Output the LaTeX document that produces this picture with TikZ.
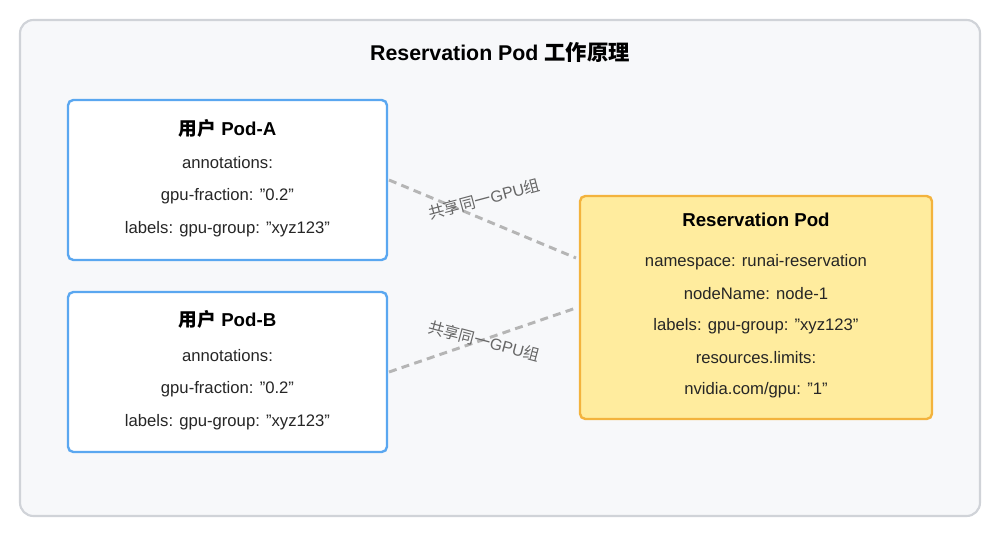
\documentclass[tikz,border=0pt]{standalone}
\usepackage{fontspec}
\setmainfont{Liberation Sans}[Ligatures=NoCommon]
\newfontfamily\cjk{Noto Sans CJK SC}
\newcommand\qq{\symbol{34}}
\definecolor{bgc}{HTML}{F7F8FA}
\definecolor{bgb}{HTML}{D0D3D8}
\definecolor{blu}{HTML}{5AA7F0}
\definecolor{yf}{HTML}{FFEC9E}
\definecolor{yb}{HTML}{F3B33D}
\definecolor{dash}{HTML}{B5B5B5}
\definecolor{lab}{HTML}{666666}
\begin{document}
\begin{tikzpicture}[x=0.75pt,y=-0.75pt,
  txt/.style={font=\fontsize{12.5}{14}\selectfont,text=black!85},
  ttl/.style={font=\bfseries\fontsize{14}{16}\selectfont},
  pod/.style={draw=blu,line width=1.8pt,fill=white,rounded corners=4pt},
  conn/.style={draw=dash,line width=2.2pt,dash pattern=on 6pt off 4pt},
  cl/.style={font=\fontsize{12}{14}\selectfont,text=lab}]
\useasboundingbox (0,0) rectangle (1004,534);
\draw[fill=bgc,draw=bgb,line width=1.6pt,rounded corners=10pt] (20,20) rectangle (980,516);
\node[font=\bfseries\fontsize{16}{18}\selectfont] (t) at (500,52) {Reservation Pod {\cjk 工作原理}};
\draw[pod] (68,100) rectangle (387,260);
\node[ttl] (a0) at (227.5,128) {{\cjk 用户} Pod-A};
\node[txt] (a1) at (227.5,163) {annotations:};
\node[txt] (a2) at (227.5,196) {gpu-fraction: \qq0.2\qq};
\node[txt] (a3) at (227.5,229) {labels: gpu-group: \qq xyz123\qq};
\draw[pod] (68,292) rectangle (387,452);
\node[ttl] (b0) at (227.5,319) {{\cjk 用户} Pod-B};
\node[txt] (b1) at (227.5,356) {annotations:};
\node[txt] (b2) at (227.5,389) {gpu-fraction: \qq0.2\qq};
\node[txt] (b3) at (227.5,422) {labels: gpu-group: \qq xyz123\qq};
\draw[fill=yf,draw=yb,line width=1.8pt,rounded corners=4pt] (580,196) rectangle (932,419);
\node[ttl] (r0) at (756,220) {Reservation Pod};
\node[txt] (r1) at (756,262) {namespace: runai-reservation};
\node[txt] (r2) at (756,294) {nodeName: node-1};
\node[txt] (r3) at (756,326) {labels: gpu-group: \qq xyz123\qq};
\node[txt] (r4) at (756,358) {resources.limits:};
\node[txt] (r5) at (756,390) {nvidia.com/gpu: \qq1\qq};
\coordinate (p1) at (389,180); \coordinate (q1) at (576,258);
\coordinate (p2) at (389,372); \coordinate (q2) at (576,308);
\draw[conn] (p1) -- (q1);
\draw[conn] (p2) -- (q2);
\node[cl,rotate=15] (l1) at (484,199) {{\cjk 共享同一}GPU{\cjk 组}};
\node[cl,rotate=-15] (l2) at (484,341) {{\cjk 共享同一}GPU{\cjk 组}};
\end{tikzpicture}
\end{document}
